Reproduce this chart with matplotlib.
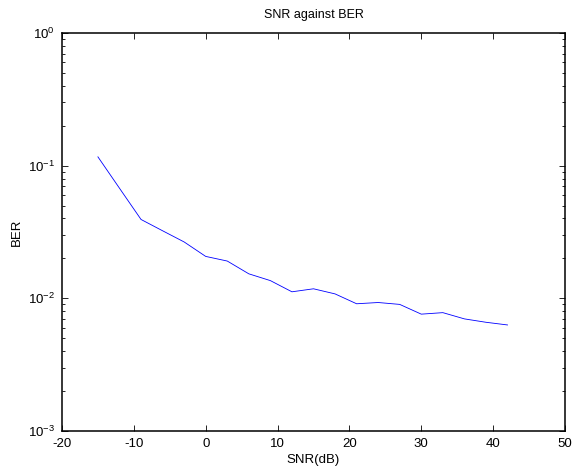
import matplotlib
matplotlib.use("Agg")
import matplotlib.pyplot as plt
from matplotlib.ticker import LogLocator, NullFormatter

snr_db = [-15, -12, -9, -6, -3, 0, 3, 6, 9, 12, 15, 18, 21, 24, 27, 30, 33, 36, 39, 42]
ber = [0.1165, 0.0676, 0.0393, 0.0323, 0.0266, 0.0207, 0.0191, 0.0153, 0.0136, 0.0112,
       0.0118, 0.0108, 0.0091, 0.0093, 0.0090, 0.0076, 0.0078, 0.0070, 0.0066, 0.0063]
x_ticks = [-20, -10, 0, 10, 20, 30, 40, 50]

plt.rcParams['font.family'] = ['Liberation Sans', 'DejaVu Sans']
plt.rcParams['font.size'] = 9
plt.rcParams['axes.unicode_minus'] = False
plt.rcParams['mathtext.default'] = 'regular'

fig = plt.figure(figsize=(5.73, 4.71), dpi=100)
ax = fig.add_axes([62/573, 40/471, (565-62)/573, (431-33)/471])
ax.plot(snr_db, ber, color='#0000ff', linewidth=0.6)
ax.set_yscale('log')
ax.set_xlim(-20, 50)
ax.set_ylim(1e-3, 1e0)
ax.set_xticks(x_ticks)
ax.set_xticklabels([str(t) for t in x_ticks])
ax.yaxis.set_major_locator(LogLocator(base=10, numticks=10))
ax.yaxis.set_minor_locator(LogLocator(base=10, subs=range(2, 10), numticks=10))
ax.yaxis.set_minor_formatter(NullFormatter())
ax.tick_params(which='both', direction='in', top=True, right=True, labelsize=9.5)
ax.tick_params(axis='x', pad=5)
ax.tick_params(axis='y', pad=5)
ax.tick_params(which='major', length=4, width=0.6)
ax.tick_params(which='minor', length=2, width=0.6)
for s in ax.spines.values():
    s.set_linewidth(1.1)
ax.set_title('SNR against BER', fontsize=9, pad=11)
ax.set_xlabel('SNR(dB)', fontsize=9.5, labelpad=3)
ax.set_ylabel('BER', fontsize=9.5, labelpad=4)
fig.savefig('out.png', dpi=100, facecolor='white')
